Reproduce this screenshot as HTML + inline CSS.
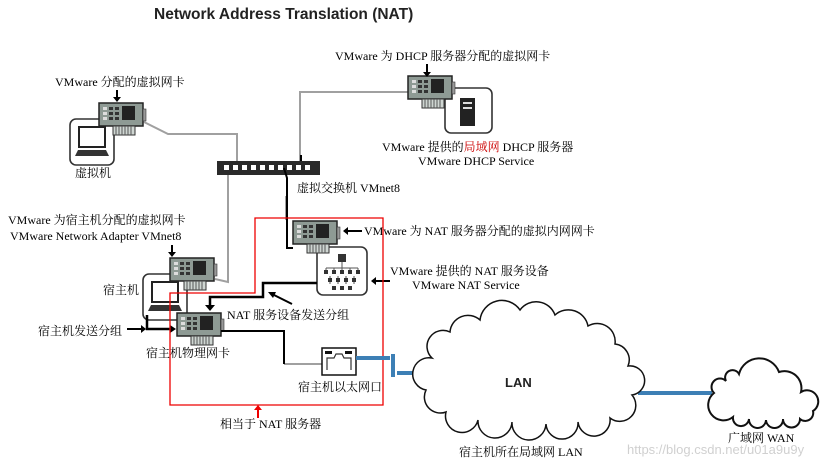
<!DOCTYPE html>
<html><head><meta charset="utf-8"><style>
html,body{margin:0;padding:0;background:#fff;width:837px;height:465px;overflow:hidden}
svg{display:block}
.t{font-family:"Liberation Serif","Noto Serif CJK SC","Noto Sans CJK SC",serif;font-size:12px;fill:#000}
</style></head><body>
<svg width="837" height="465" viewBox="0 0 837 465" xmlns="http://www.w3.org/2000/svg">
<defs>
<g id="nic">
 <rect x="0" y="0" width="44" height="23" fill="#8e9a94" stroke="#222" stroke-width="1.5"/>
 <rect x="14" y="23" width="22" height="9" fill="#cfd6d2" stroke="#333"/>
 <path d="M17 23v9M20 23v9M23 23v9M26 23v9M29 23v9M32 23v9" stroke="#555" stroke-width="1"/>
 <rect x="4" y="4" width="4" height="3" fill="#ddd"/><rect x="4" y="9" width="4" height="3" fill="#ddd"/><rect x="4" y="14" width="4" height="3" fill="#ddd"/>
 <rect x="10" y="4" width="4" height="3" fill="#333"/><rect x="10" y="9" width="4" height="3" fill="#333"/><rect x="10" y="14" width="4" height="3" fill="#333"/>
 <rect x="16" y="4" width="4" height="3" fill="#333"/><rect x="16" y="9" width="4" height="3" fill="#333"/><rect x="16" y="14" width="4" height="3" fill="#333"/>
 <rect x="23" y="3" width="13" height="14" fill="#222"/>
 <rect x="44" y="6" width="3" height="12" fill="#999" stroke="#333" stroke-width=".6"/>
</g>
<g id="laptop">
 <rect x="0" y="0" width="44" height="46" rx="6" fill="none" stroke="#333" stroke-width="1.6"/>
 <rect x="9" y="8" width="26" height="20" fill="#fff" stroke="#222" stroke-width="2"/>
 <path d="M5 37h34l-3-6H8z" fill="#333"/>
</g>
</defs>

<text x="154" y="19" font-family="Liberation Sans, sans-serif" font-weight="bold" font-size="15.5" fill="#222">Network Address Translation (NAT)</text>

<g stroke="#a0a0a0" stroke-width="2" fill="none">
 <path d="M144 122 L168 134 L237 134 L237 164"/>
 <path d="M300 164 L300 92 L408 92"/>
 <path d="M228 172 L228 282 L215 279"/>
 <path d="M286 196 L286 220"/>
 <path d="M284 364 L322 364"/>
</g>
<path d="M301 155V165" stroke="#000" stroke-width="2"/>
<rect x="217" y="161" width="103" height="14" fill="#2a2a2a"/>
<g fill="#fff"><rect x="224" y="165" width="5" height="5"/><rect x="233" y="165" width="5" height="5"/><rect x="242" y="165" width="5" height="5"/><rect x="251" y="165" width="5" height="5"/><rect x="260" y="165" width="5" height="5"/><rect x="269" y="165" width="5" height="5"/><rect x="278" y="165" width="5" height="5"/><rect x="287" y="165" width="5" height="5"/><rect x="296" y="165" width="5" height="5"/><rect x="305" y="165" width="5" height="5"/></g>
<path d="M284 168 L287 178 L287 248 L293 248" stroke="#000" stroke-width="2" fill="none"/>

<use href="#laptop" x="70" y="119"/>
<use href="#nic" x="99" y="103"/>
<text class="t" x="55" y="86">VMware 分配的虚拟网卡</text>
<path d="M117 90V100" stroke="#000" stroke-width="2"/><path d="M113 97l4 5 4-5z"/>
<text class="t" x="75" y="177">虚拟机</text>

<rect x="445" y="88" width="47" height="45" rx="6" fill="#fff" stroke="#333" stroke-width="1.6"/>
<rect x="460" y="98" width="15" height="28" fill="#222"/>
<rect x="463" y="102" width="9" height="2" fill="#ddd"/><rect x="463" y="107" width="9" height="2" fill="#ddd"/>
<use href="#nic" x="408" y="76"/>
<text class="t" x="335" y="60">VMware 为 DHCP 服务器分配的虚拟网卡</text>
<path d="M427 64V74" stroke="#000" stroke-width="2"/><path d="M423 72l4 5 4-5z"/>
<text class="t" x="382" y="151">VMware 提供的<tspan fill="#c00">局域网</tspan> DHCP 服务器</text>
<text class="t" x="418" y="165">VMware DHCP Service</text>
<text class="t" x="297" y="192">虚拟交换机 VMnet8</text>

<text class="t" x="8" y="224">VMware 为宿主机分配的虚拟网卡</text>
<text class="t" x="10" y="240">VMware Network Adapter VMnet8</text>
<path d="M172 245V254" stroke="#000" stroke-width="2"/><path d="M168 252l4 5 4-5z"/>
<use href="#laptop" x="143" y="274"/>
<use href="#nic" x="170" y="258"/>
<text class="t" x="103" y="294">宿主机</text>

<rect x="317" y="247" width="50" height="48" rx="6" fill="#fff" stroke="#333" stroke-width="1.6"/>
<rect x="338" y="254" width="8" height="8" fill="#333"/>
<path d="M342 262v6M326 268h32M326 268v4M334 268v4M342 268v4M350 268v4M358 268v4M330 276v8M338 276v8M346 276v8M354 276v8" stroke="#555" stroke-width="1"/>
<g fill="#333"><rect x="324" y="270" width="4" height="4"/><rect x="332" y="270" width="4" height="4"/><rect x="340" y="270" width="4" height="4"/><rect x="348" y="270" width="4" height="4"/><rect x="356" y="270" width="4" height="4"/><rect x="328" y="278" width="4" height="4"/><rect x="336" y="278" width="4" height="4"/><rect x="344" y="278" width="4" height="4"/><rect x="352" y="278" width="4" height="4"/><rect x="332" y="286" width="4" height="4"/><rect x="340" y="286" width="4" height="4"/><rect x="348" y="286" width="4" height="4"/></g>
<use href="#nic" x="293" y="221"/>
<path d="M345 231H362" stroke="#000" stroke-width="2"/><path d="M343 231l5-4v8z"/>
<text class="t" x="364" y="235">VMware 为 NAT 服务器分配的虚拟内网网卡</text>
<path d="M374 281H390" stroke="#000" stroke-width="2"/><path d="M371 281l5-4v8z"/>
<text class="t" x="390" y="275">VMware 提供的 NAT 服务设备</text>
<text class="t" x="412" y="289">VMware NAT Service</text>

<path d="M317 283H263V297H210V307" stroke="#000" stroke-width="2.5" fill="none"/><path d="M205 305l5 6 5-6z"/>
<path d="M292 304L272 294" stroke="#000" stroke-width="2"/><path d="M268 292l8 0-3 6z"/>
<text class="t" x="227" y="319">NAT 服务设备发送分组</text>
<path d="M147 315V329H172" stroke="#000" stroke-width="2.5" fill="none"/><path d="M176 329l-6-4v8z"/>
<path d="M127 329H142" stroke="#000" stroke-width="2"/><path d="M146 329l-5-4v8z"/>
<text class="t" x="38" y="335">宿主机发送分组</text>
<use href="#nic" x="177" y="313"/>
<text class="t" x="146" y="357">宿主机物理网卡</text>
<path d="M221 331H284V364" stroke="#000" stroke-width="2" fill="none"/>

<rect x="322" y="348" width="34" height="27" fill="#fff" stroke="#111" stroke-width="1.5"/>
<rect x="325" y="351" width="7" height="3" fill="#111"/><rect x="345" y="351" width="7" height="3" fill="#111"/>
<path d="M327 370V358H334L336 354H342L344 358H351V370" stroke="#333" fill="none" stroke-width="1.2"/>
<text class="t" x="298" y="391">宿主机以太网口</text>

<path d="M255 218H383V405H170V293H255Z" stroke="#e00" stroke-width="1.3" fill="none"/>
<path d="M258 418V408" stroke="#e00" stroke-width="2"/><path d="M254 410l4-5 4 5z" fill="#e00"/>
<text class="t" x="220" y="428">相当于 NAT 服务器</text>

<g stroke="#3d7fb5" stroke-width="4" fill="none">
 <path d="M356 358H390"/><path d="M393 354V377"/><path d="M397 373H430"/>
 <path d="M638 393H712"/>
</g>

<path d="M432,358 A16,16 0 0 1 450,332 A18,18 0 0 1 480,320 A22,22 0 0 1 520,310 A20,20 0 0 1 555,315 A20,20 0 0 1 588,326 A18,18 0 0 1 615,344 A16,16 0 0 1 628,366 A14,14 0 0 1 632,395 A16,16 0 0 1 610,418 A16,16 0 0 1 578,422 A16,16 0 0 1 546,424 A16,16 0 0 1 512,422 A16,16 0 0 1 478,420 A16,16 0 0 1 446,412 A16,16 0 0 1 426,390 A16,16 0 0 1 432,358 Z" fill="#fff" stroke="#111" stroke-width="1.5"/>
<text x="505" y="387" font-family="Liberation Sans, sans-serif" font-weight="bold" font-size="13" fill="#222">LAN</text>
<text class="t" x="459" y="456">宿主机所在局域网 LAN</text>

<path d="M714,393 A8,8 0 0 1 726,381 A7,7 0 0 1 739,374 A21,21 0 0 1 779,372 A17,17 0 0 1 801,392 A10,10 0 0 1 813,411 A8,8 0 0 1 800,419 A8,8 0 0 1 783,419 A8,8 0 0 1 766,420 A8,8 0 0 1 749,419 A8,8 0 0 1 733,417 A10,10 0 0 1 714,393 Z" fill="#fff" stroke="#111" stroke-width="2"/>
<text class="t" x="728" y="442">广域网 WAN</text>
<text x="627" y="454" font-family="Liberation Sans, sans-serif" font-size="13" fill="#d0d0d0">https://blog.csdn.net/u01a9u9y</text>
</svg>
</body></html>
